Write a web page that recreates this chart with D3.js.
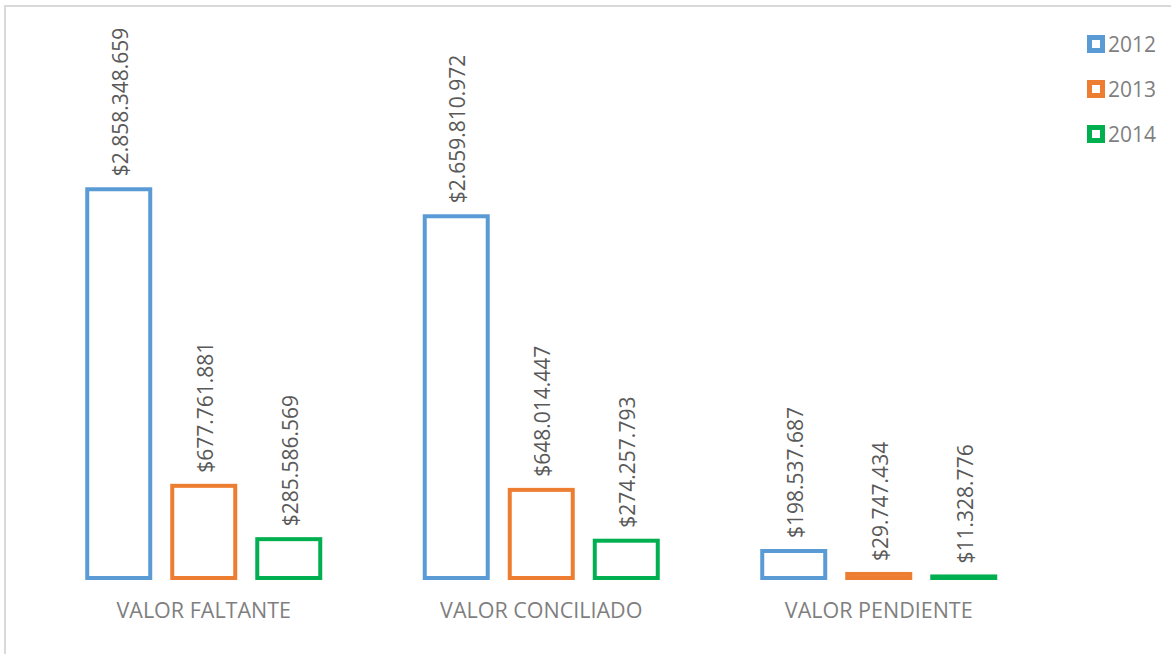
<!DOCTYPE html>
<html>
<head>
<meta charset="utf-8">
<style>
    body { margin: 0; background: #fff; font-family: "Open Sans", sans-serif; }
    svg { display: block; }
</style>
<script src="https://cdn.jsdelivr.net/npm/d3@7"></script>
</head>
<body>
<div id="chart"></div>
<script>
    // chart data
    let categories = ["VALOR FALTANTE", "VALOR CONCILIADO", "VALOR PENDIENTE"];
    let years = ["2012", "2013", "2014"];
    let values2012 = [2858348659, 2659810972, 198537687];
    let values2013 = [677761881, 648014447, 29747434];
    let values2014 = [285586569, 274257793, 11328776];
    let colors = ["#5B9BD5", "#ED7D31", "#00B050"];

    let seriesValues = [values2012, values2013, values2014];
    let rows = [];
    categories.forEach((c, i) => {
        years.forEach((y, j) => {
            rows.push({ category: c, year: y, value: seriesValues[j][i] });
        });
    });

    let width = 1171, height = 654;
    let svg = d3.select("#chart").append("svg")
        .attr("width", width)
        .attr("height", height);

    // frame
    svg.append("rect")
        .attr("x", 5).attr("y", 6)
        .attr("width", 1300).attr("height", 800)
        .attr("fill", "none")
        .attr("stroke", "#d9d9d9")
        .attr("stroke-width", 2);

    let xScale = d3.scaleBand()
        .domain(categories)
        .range([35, 1047.5]);

    let innerScale = d3.scaleBand()
        .domain(years)
        .range([0, xScale.bandwidth()])
        .paddingInner(0.212)
        .paddingOuter(0.591);

    let yScale = d3.scaleLinear()
        .domain([0, 3000000000])
        .range([578, 170]);

    let cScale = d3.scaleOrdinal().domain(years).range(colors);

    let fmt = v => "$" + d3.format(",")(v).replace(/,/g, ".");

    let sw = 4;
    let groups = svg.append("g").selectAll("g.bar")
        .data(rows)
        .enter()
        .append("g")
        .attr("transform", d => "translate(" + (xScale(d.category) + innerScale(d.year)) + ",0)");

    groups.append("rect")
        .attr("x", sw / 2)
        .attr("y", d => yScale(d.value))
        .attr("width", innerScale.bandwidth() - sw)
        .attr("height", d => Math.max(0.01, yScale(0) - yScale(d.value)))
        .attr("fill", "#fff")
        .attr("stroke", d => cScale(d.year))
        .attr("stroke-width", sw);

    groups.append("text")
        .attr("transform", d => "translate(" + (innerScale.bandwidth() / 2 + 1) + "," + (yScale(d.value) - 13) + ") rotate(-90)")
        .attr("text-anchor", "start")
        .attr("dominant-baseline", "central")
        .attr("font-size", 21)
        .attr("fill", "#595959")
        .text(d => fmt(d.value));

    // category axis
    let axisX = d3.axisBottom(xScale).tickSize(0).tickPadding(0);
    let ax = svg.append("g")
        .attr("transform", "translate(0,610.5)")
        .call(axisX);
    ax.select(".domain").remove();
    ax.selectAll("text")
        .attr("dy", "0.35em")
        .attr("font-family", "Open Sans, sans-serif")
        .attr("font-size", 21.5)
        .attr("fill", "#7f7f7f");

    // legend
    let legend = svg.append("g").selectAll("g")
        .data(years)
        .enter()
        .append("g")
        .attr("transform", (d, i) => "translate(1087," + (44 + i * 45) + ")");
    legend.append("rect")
        .attr("x", 2.5).attr("y", -6.5)
        .attr("width", 13).attr("height", 13)
        .attr("fill", "#fff")
        .attr("stroke", d => cScale(d))
        .attr("stroke-width", 5);
    legend.append("text")
        .attr("x", 21)
        .attr("dominant-baseline", "central")
        .attr("font-size", 21)
        .attr("fill", "#7f7f7f")
        .text(d => d);
</script>
</body>
</html>
